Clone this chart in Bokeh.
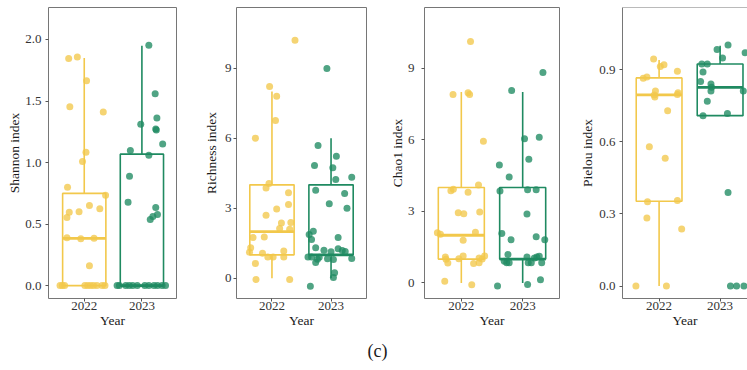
from bokeh.plotting import figure
from bokeh.layouts import row, column
from bokeh.models import FixedTicker, NumeralTickFormatter, Span, Label
from bokeh.embed import file_html
from bokeh.resources import INLINE

years = ["2022", "2023"]
year_pos = [1, 2]
colors = ["#F2C84B", "#1F8A61"]

# ---------------- Shannon ----------------
shannon_2022 = [1.846, 1.857, 1.665, 1.454, 1.411, 1.084, 1.008, 0.800, 0.735, 0.651,
                0.624, 0.595, 0.600, 0.554, 0.389, 0.381, 0.384, 0.162,
                0, 0, 0, 0, 0, 0, 0, 0, 0, 0]
shannon_2022_jit = [-0.27, -0.12, 0.04, -0.25, 0.33, 0.03, -0.03, -0.29, 0.37, 0.09,
                    0.27, -0.26, -0.09, -0.30, -0.30, -0.06, 0.17, 0.09,
                    -0.42, -0.38, -0.34, 0.01, 0.06, 0.11, 0.16, 0.22, 0.31, 0.36]
shannon_2023 = [1.954, 1.559, 1.362, 1.311, 1.273, 1.265, 1.151, 1.097, 1.059, 0.889,
                0.678, 0.635, 0.578, 0.562, 0.538,
                0, 0, 0, 0, 0, 0, 0, 0, 0, 0, 0, 0]
shannon_2023_jit = [0.12, 0.23, 0.26, -0.02, 0.24, 0.25, 0.36, -0.20, 0.12, -0.215,
                    -0.24, 0.24, 0.27, 0.19, 0.145,
                    -0.43, -0.39, -0.28, -0.22, -0.16, -0.08, 0.05, 0.12, 0.21, 0.27, 0.35, 0.41]
shannon_q1 = [0.0, 0.0]
shannon_med = [0.384, 0.0]
shannon_q3 = [0.749, 1.068]
shannon_lo = [0.0, 0.0]
shannon_hi = [1.849, 1.949]
shannon_ticks = [0, 0.5, 1.0, 1.5, 2.0]

# ---------------- Richness ----------------
richness_2022 = [10.2, 8.21, 7.8, 6.76, 6.0, 4.06, 3.87, 3.66, 3.16, 2.96,
                 2.7, 2.37, 2.39, 2.13, 2.1, 1.74, 1.77, 1.31, 1.11, 1.07,
                 1.17, 0.91, 0.91, 0.91, 0.63, -0.06, -0.06]
richness_2022_jit = [0.39, -0.04, 0.08, 0.06, -0.28, -0.05, -0.10, 0.28, 0.28, 0.08,
                     -0.10, 0.16, 0.32, 0.13, 0.30, -0.32, -0.13, -0.36, -0.38, -0.16,
                     0.20, -0.07, 0.02, 0.20, -0.28, -0.27, 0.30]
richness_2023 = [8.99, 5.69, 5.23, 4.83, 4.73, 4.23, 4.33, 3.77, 3.63, 3.19,
                 3.0, 1.87, 2.01, 1.66, 1.74, 1.30, 1.20, 1.13, 1.26, 1.19,
                 1.14, 0.91, 0.91, 0.90, 0.81, 0.67, 0.83, 0.80, 0.84, 0.23,
                 0.03, -0.34]
richness_2023_jit = [-0.07, -0.22, 0.09, -0.28, 0.03, 0.08, 0.35, -0.26, 0.23, -0.03,
                     0.27, -0.37, -0.30, -0.33, 0.12, -0.26, -0.12, 0.0, 0.12, 0.19,
                     0.24, -0.39, -0.33, -0.20, -0.23, -0.26, -0.06, 0.04, 0.35, 0.06,
                     0.04, -0.35]
richness_q1 = [1.0, 1.0]
richness_med = [2.0, 1.0]
richness_q3 = [4.0, 4.0]
richness_lo = [0.0, 0.0]
richness_hi = [8.0, 6.0]
count_ticks = [0, 3, 6, 9]

# ---------------- Chao1 ----------------
chao1_2022 = [10.12, 7.9, 7.97, 7.9, 5.94, 3.86, 3.93, 4.1, 3.8, 2.94,
              2.9, 2.97, 2.1, 2.04, 2.13, 1.79, 1.09, 0.99, 1.02, 1.13,
              1.05, 1.13, 1.0, 0.84, 0.82, 0.85, 0.07, -0.07]
chao1_2022_jit = [0.15, -0.135, 0.11, 0.135, 0.36, -0.17, -0.13, 0.28, 0.11, -0.05,
                  0.04, 0.30, -0.39, -0.34, 0.23, 0.03, -0.26, -0.25, -0.04, 0.03,
                  0.29, 0.38, 0.34, -0.22, 0.20, 0.29, -0.27, 0.17]
chao1_2023 = [8.82, 8.06, 6.04, 6.11, 5.18, 4.94, 4.44, 3.85, 3.91, 3.91,
              2.89, 2.07, 1.94, 1.81, 1.81, 1.19, 0.91, 0.85, 0.85, 1.09,
              0.85, 0.85, 1.05, 1.09, 1.12, 0.85, 0.14, -0.13, -0.06]
chao1_2023_jit = [0.33, -0.18, 0.03, 0.27, 0.10, -0.38, -0.22, -0.37, 0.08, 0.22,
                  0.07, -0.34, 0.22, -0.19, 0.36, -0.24, -0.30, -0.26, -0.22, 0.07,
                  0.14, 0.09, 0.19, 0.23, 0.27, 0.31, 0.29, -0.41, 0.08]
chao1_q1 = [1.0, 1.0]
chao1_med = [2.0, 1.0]
chao1_q3 = [4.0, 4.0]
chao1_lo = [0.0, 0.0]
chao1_hi = [8.0, 8.0]

# ---------------- Pielou ----------------
pielou_2022 = [0.945, 0.913, 0.921, 0.894, 0.865, 0.870, 0.812, 0.795, 0.787, 0.804,
               0.797, 0.729, 0.579, 0.532, 0.351, 0.356, 0.283, 0.237, 0.0, 0.0]
pielou_2022_jit = [-0.09, 0.02, 0.08, 0.30, -0.26, -0.20, -0.06, -0.08, -0.07, 0.31,
                   0.30, 0.14, -0.16, 0.10, -0.19, 0.30, -0.20, 0.37, -0.38, 0.12]
pielou_2023 = [1.003, 0.984, 0.971, 0.949, 0.924, 0.924, 0.891, 0.851, 0.841, 0.827,
               0.812, 0.812, 0.769, 0.708, 0.718, 0.389, 0.0, 0.0, 0.0]
pielou_2023_jit = [0.13, -0.05, 0.41, 0.04, -0.30, -0.21, -0.28, -0.32, -0.15, -0.14,
                   -0.15, 0.38, -0.21, -0.28, 0.12, 0.13, 0.17, 0.27, 0.39]
pielou_q1 = [0.353, 0.709]
pielou_med = [0.795, 0.827]
pielou_q3 = [0.866, 0.924]
pielou_lo = [0.0, 0.709]
pielou_hi = [0.941, 1.0]
pielou_ticks = [0, 0.3, 0.6, 0.9]

FONT = "Liberation Serif"
BORDER = "#767676"
BOX_W = 0.75


def make_panel(title, vals, jits, q1, med, q3, lo, hi, ticks, fmt,
               width, left, right, xr, yr, tick_standoff, label_standoff, last=False):
    p = figure(width=width, height=333, output_backend="svg", toolbar_location=None,
               x_range=xr, y_range=yr, min_border_left=left, min_border_right=right,
               min_border_top=7, min_border_bottom=35)
    p.grid.visible = False
    p.background_fill_color = "white"
    p.border_fill_color = "white"
    half = BOX_W / 2
    for i in range(2):
        x = year_pos[i]
        c = colors[i]
        p.quad(left=[x - half], right=[x + half], bottom=[q1[i]], top=[q3[i]],
               fill_alpha=0, line_color=c, line_width=1.6)
        p.segment(x0=[x, x], y0=[q3[i], q1[i]], x1=[x, x], y1=[hi[i], lo[i]],
                  line_color=c, line_width=1.6)
        p.segment(x0=[x - half], y0=[med[i]], x1=[x + half], y1=[med[i]],
                  line_color=c, line_width=2.8)
        p.scatter(x=[x + j for j in jits[i]], y=vals[i], size=7,
                  fill_color=c, fill_alpha=0.78, line_color=None)
    # axes
    p.xaxis.ticker = FixedTicker(ticks=year_pos)
    p.xaxis.major_label_overrides = {1: years[0], 2: years[1]}
    p.yaxis.ticker = FixedTicker(ticks=ticks)
    p.yaxis.formatter = NumeralTickFormatter(format=fmt)
    p.xaxis.axis_label = "Year"
    p.yaxis.axis_label = title
    for ax in (p.xaxis[0], p.yaxis[0]):
        ax.minor_tick_line_color = None
        ax.major_tick_in = 0
        ax.major_tick_out = 3
        ax.major_tick_line_color = "#555555"
        ax.major_label_text_font = FONT
        ax.major_label_text_font_size = "13px"
        ax.major_label_text_color = "#333333"
        ax.axis_label_text_font = FONT
        ax.axis_label_text_font_size = "13.5px"
        ax.axis_label_text_font_style = "normal"
        ax.axis_label_text_color = "#1a1a1a"
    p.xaxis.major_label_standoff = 0
    p.xaxis.axis_label_standoff = 0
    p.yaxis.major_label_standoff = tick_standoff
    p.yaxis.axis_label_standoff = label_standoff
    if last:
        p.outline_line_color = None
        p.xaxis.axis_line_color = BORDER
        p.yaxis.axis_line_color = BORDER
        p.add_layout(Span(location=yr[1], dimension="width", line_color=BORDER,
                          line_width=1))
    else:
        p.outline_line_color = BORDER
        p.outline_line_width = 1
        p.outline_line_alpha = 1
        p.xaxis.axis_line_color = None
        p.yaxis.axis_line_color = None
    return p


p1 = make_panel("Shannon index", [shannon_2022, shannon_2023],
                [shannon_2022_jit, shannon_2023_jit],
                shannon_q1, shannon_med, shannon_q3, shannon_lo, shannon_hi,
                shannon_ticks, "0.0", 200, 48, 24, (0.38, 2.6), (-0.105, 2.26), 4, 0)
p2 = make_panel("Richness index", [richness_2022, richness_2023],
                [richness_2022_jit, richness_2023_jit],
                richness_q1, richness_med, richness_q3, richness_lo, richness_hi,
                count_ticks, "0", 176, 32, 10, (0.4, 2.6), (-0.87, 11.6), 2, 3)
p3 = make_panel("Chao1 index", [chao1_2022, chao1_2023],
                [chao1_2022_jit, chao1_2023_jit],
                chao1_q1, chao1_med, chao1_q3, chao1_lo, chao1_hi,
                count_ticks, "0", 197, 48, 14, (0.4, 2.6), (-0.65, 11.54), 7, 0)
p4 = make_panel("Pielou index", [pielou_2022, pielou_2023],
                [pielou_2022_jit, pielou_2023_jit],
                pielou_q1, pielou_med, pielou_q3, pielou_lo, pielou_hi,
                pielou_ticks, "0.0", 174, 49, 0, (0.4, 2.449), (-0.052, 1.159), 4, 1,
                last=True)

cap = figure(width=747, height=30, output_backend="svg", toolbar_location=None,
             x_range=(0, 1), y_range=(0, 1), min_border=0)
cap.axis.visible = False
cap.grid.visible = False
cap.outline_line_color = None
cap.add_layout(Label(x=377, y=13, x_units="screen", y_units="screen", text="(c)",
                     text_align="center", text_baseline="middle",
                     text_font=FONT, text_font_size="18px", text_color="#1a1a1a"))

layout = column(row(p1, p2, p3, p4), cap)
open("out.html", "w").write(file_html(layout, INLINE))
